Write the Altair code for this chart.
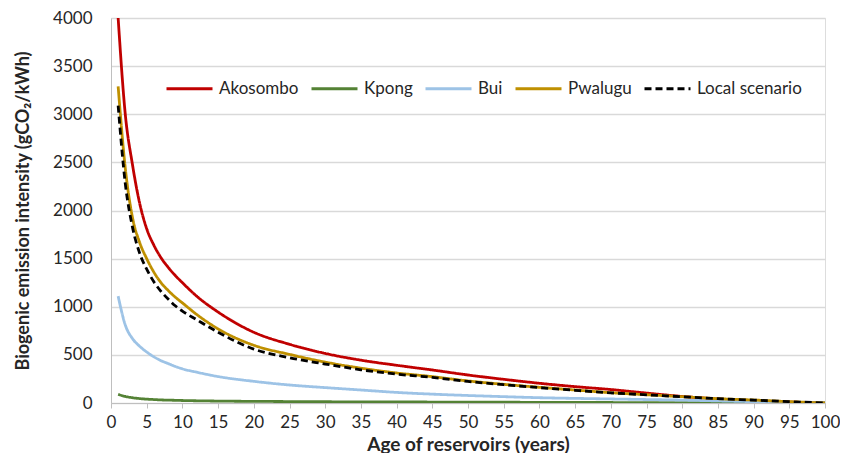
import altair as alt
import pandas as pd

ages = [1, 2, 3, 4, 5, 6, 7, 8, 9, 10, 12, 15, 20, 25, 30, 35, 40, 45, 50, 55,
        60, 65, 70, 75, 80, 85, 90, 95, 100]
akosombo = [4000, 3000, 2480, 2080, 1810, 1640, 1510, 1410, 1325, 1250, 1110, 945,
            735, 610, 515, 445, 392, 343, 291, 246, 205, 170, 140, 103, 68, 42, 22, 10, 0]
kpong = [90, 68, 55, 46, 40, 36, 32, 30, 28, 26, 23, 20, 17, 15, 13, 12, 11, 10, 9,
         8, 7, 6, 5, 4, 3, 2, 1.5, 1, 0]
bui = [1110, 810, 670, 590, 530, 480, 440, 410, 380, 355, 320, 275, 225, 187, 160,
       135, 110, 92, 78, 66, 55, 48, 42, 36, 30, 22, 14, 7, 0]
pwalugu = [3290, 2440, 1930, 1670, 1500, 1360, 1250, 1170, 1100, 1040, 920, 770, 600,
           505, 425, 362, 312, 274, 229, 194, 163, 135, 107, 86, 66, 45, 31, 14, 0]
local = [3090, 2280, 1830, 1560, 1390, 1260, 1160, 1080, 1010, 955, 865, 735, 560,
         470, 405, 345, 300, 266, 224, 190, 160, 132, 106, 85, 65, 45, 30, 14, 0]

series_names = ["Akosombo", "Kpong", "Bui", "Pwalugu", "Local scenario"]
series_values = [akosombo, kpong, bui, pwalugu, local]
colors = ["#C00000", "#548235", "#9DC3E6", "#BF9000", "#000000"]
dashes = [[1, 0], [1, 0], [1, 0], [1, 0], [7, 4]]

rows = []
for i, (name, vals) in enumerate(zip(series_names, series_values)):
    for a, v in zip(ages, vals):
        rows.append({"age": a, "value": v, "series": name, "series_order": i})
df = pd.DataFrame(rows)

FONT = "Lato"
TXT = "#262626"

legend_kw = dict(title=None, orient="none", direction="horizontal",
                 legendX=54, legendY=46, symbolType="stroke",
                 symbolSize=2116, symbolStrokeWidth=3,
                 labelFont=FONT, labelFontSize=17, labelColor=TXT,
                 labelOffset=5, columnPadding=6)

chart = alt.Chart(df).mark_line(strokeWidth=2.8, clip=True, interpolate="monotone").encode(
    x=alt.X("age:Q",
            scale=alt.Scale(domain=[0, 100], nice=False),
            axis=alt.Axis(values=list(range(0, 101, 5)), title="Age of reservoirs (years)",
                          format="d", labelOverlap=False, labelFlush=False,
                          grid=False, domainColor="#BFBFBF", tickColor="#BFBFBF",
                          tickSize=5, labelPadding=6, labelFontSize=17, labelFont=FONT,
                          labelColor=TXT, titleFont=FONT, titleFontSize=19,
                          titleFontWeight="bold", titleColor=TXT, titlePadding=5)),
    y=alt.Y("value:Q",
            scale=alt.Scale(domain=[0, 4000], nice=False),
            axis=alt.Axis(values=list(range(0, 4001, 500)),
                          title="Biogenic emission intensity (gCO₂/kWh)",
                          format="d", labelOverlap=False, labelFlush=False,
                          grid=True, gridColor="#D9D9D9", gridWidth=1.3,
                          domainColor="#BFBFBF", ticks=False, labelPadding=19,
                          labelFontSize=17, labelFont=FONT, labelColor=TXT,
                          titleFont=FONT, titleFontSize=18, titleFontWeight="bold",
                          titleColor=TXT, titlePadding=20)),
    color=alt.Color("series:N", scale=alt.Scale(domain=series_names, range=colors),
                    sort=series_names, legend=alt.Legend(**legend_kw)),
    strokeDash=alt.StrokeDash("series:N", scale=alt.Scale(domain=series_names, range=dashes),
                              sort=series_names, legend=alt.Legend(**legend_kw)),
    order=alt.Order("series_order:Q"),
).properties(
    width=714, height=385,
    autosize=alt.AutoSizeParams(type="none"),
    padding={"left": 103, "top": 10, "right": 15, "bottom": 50},
).configure_view(stroke=None).configure(background="white")

chart.save("out.html", embed_options={"renderer": "svg", "actions": False})
